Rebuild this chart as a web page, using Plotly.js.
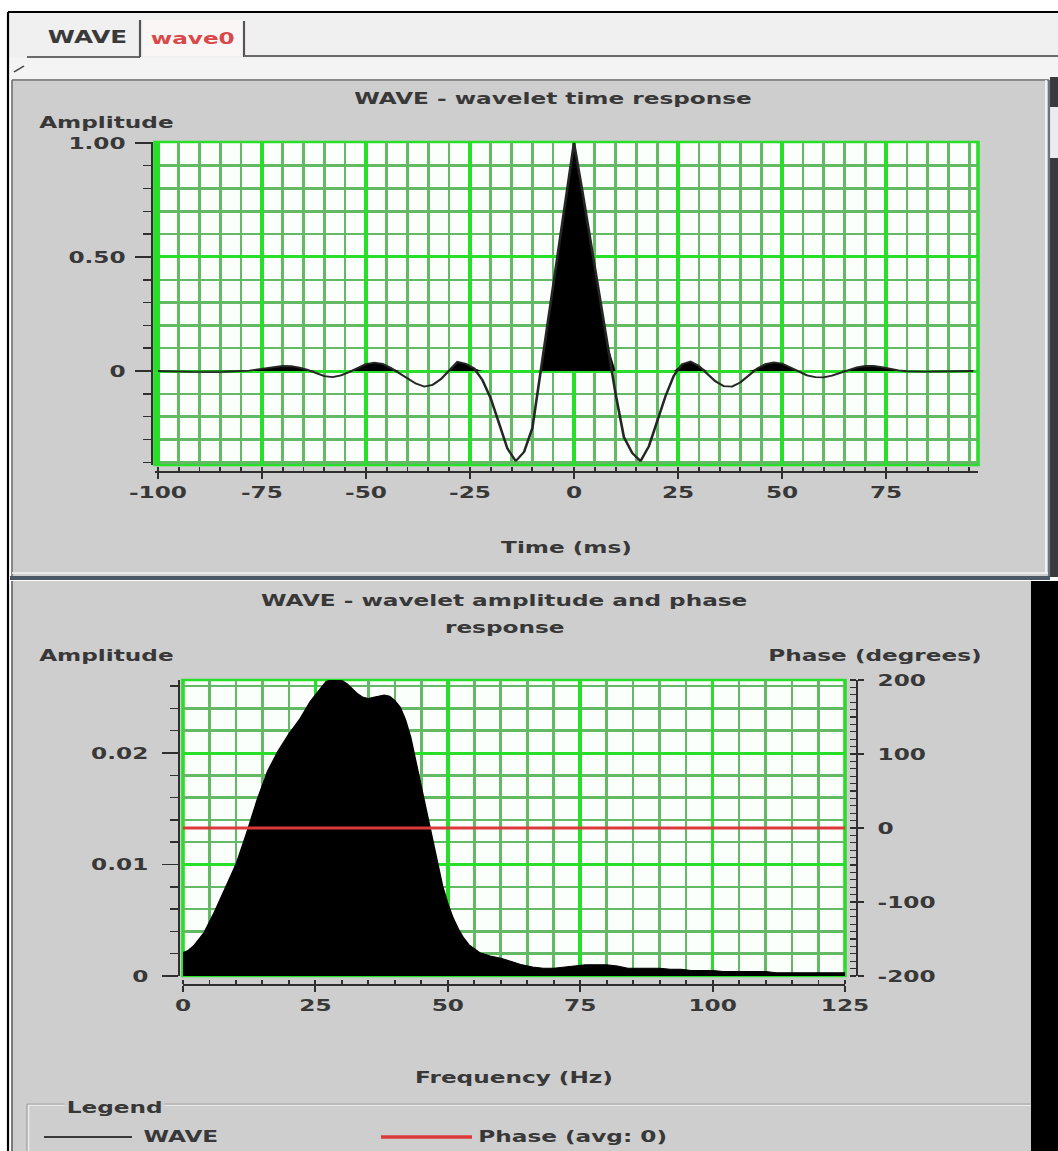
<!DOCTYPE html>
<html><head><meta charset="utf-8">
<script src="https://cdn.plot.ly/plotly-3.0.1.min.js"></script>
<style>
html,body{margin:0;padding:0;background:#fff;overflow:hidden;}
#wrap{width:1058px;height:1151px;overflow:hidden;}
#chart{width:730px;height:1151px;transform:scaleX(1.449315);transform-origin:0 0;}
</style></head><body><div id="wrap"><div id="chart"></div></div>
<script>
// ---------------- data ----------------
const timeMs = [-100,-98,-96,-94,-92,-90,-88,-86,-84,-82,-80,-78,-76,-74,-72,-70,-68,-66,-64,-62,-60,-58,-56,-54,-52,-50,-48,-46,-44,-42,-40,-38,-36,-34,-32,-30,-28,-26,-24,-22,-20,-18,-16,-14,-12,-10,-8,-6,-4,-2,0,2,4,6,8,10,12,14,16,18,20,22,24,26,28,30,32,34,36,38,40,42,44,46,48,50,52,54,56,58,60,62,64,66,68,70,72,74,76,78,80,82,84,86,88,90,92,94,96];
const timeAmp = [0.000,0.000,-0.002,-0.003,-0.004,-0.005,-0.005,-0.005,-0.004,-0.003,-0.001,0.002,0.007,0.013,0.019,0.022,0.021,0.015,0.005,-0.008,-0.022,-0.027,-0.019,-0.004,0.014,0.030,0.037,0.031,0.013,-0.011,-0.034,-0.055,-0.068,-0.061,-0.036,0.000,0.040,0.032,0.012,-0.040,-0.120,-0.230,-0.340,-0.395,-0.355,-0.250,-0.010,0.245,0.500,0.750,1.000,0.790,0.570,0.350,0.120,-0.100,-0.290,-0.360,-0.395,-0.330,-0.220,-0.110,-0.020,0.030,0.042,0.022,-0.012,-0.045,-0.066,-0.068,-0.050,-0.020,0.010,0.030,0.038,0.033,0.016,-0.004,-0.019,-0.027,-0.028,-0.020,-0.008,0.005,0.016,0.022,0.022,0.017,0.009,0.003,-0.001,-0.003,-0.003,-0.002,-0.001,0.000,0.000,0.000,0.000];

const freqHz = [0,1,2,4,6,8,10,12,14,16,18,20,22,24,26,27,28,30,31,32,33,34,35,36,37,38,39,40,41,42,43,44,45,46,47,48,49,50,51,52,53,54,56,58,60,62,64,66,68,70,72,74,76,78,80,82,84,86,88,90,92,94,96,98,100,102,104,106,108,110,112,114,116,118,120,122,124,125];
const specAmp = [0.0021,0.0023,0.0027,0.0039,0.0058,0.0078,0.0100,0.0128,0.0158,0.0184,0.0202,0.0217,0.0230,0.0246,0.0259,0.0264,0.0266,0.0265,0.0262,0.0257,0.0253,0.0250,0.0249,0.0250,0.0251,0.0252,0.0251,0.0247,0.0241,0.0230,0.0214,0.0192,0.0168,0.0145,0.0122,0.0100,0.0081,0.0065,0.0052,0.0042,0.0034,0.0028,0.0021,0.0018,0.0016,0.0013,0.0010,0.0008,0.0007,0.0007,0.0008,0.0009,0.0010,0.0010,0.0010,0.0009,0.0007,0.0007,0.0007,0.0007,0.0006,0.0006,0.0005,0.0005,0.0005,0.0004,0.0004,0.0004,0.0004,0.0004,0.0003,0.0003,0.0003,0.0003,0.0003,0.0003,0.0003,0.0003];

const phaseFreqHz = [0, 125];
const phaseDeg = [0, 0];

const topXTickVals = [-100,-75,-50,-25,0,25,50,75];
const topXTickText = ['-100','-75','-50','-25','0','25','50','75'];
const topYTickVals = [0, 0.5, 1];
const topYTickText = ['0','0.50','1.00'];
const botXTickVals = [0,25,50,75,100,125];
const botXTickText = ['0','25','50','75','100','125'];
const ampTickVals = [0, 0.01, 0.02];
const ampTickText = ['0','0.01','0.02'];
const phaseTickVals = [-200,-100,0,100,200];
const phaseTickText = ['-200','-100','0','100','200'];
const legendNames = ['WAVE','Phase (avg: 0)'];
const tabNames = ['WAVE','wave0'];

// ---------------- helpers ----------------
const W_REF = 1058, H_REF = 1151;
const px = x => x / W_REF;
const py = y => 1 - y / H_REF;
const FONT = 'DejaVu Sans, Verdana, sans-serif';
const TXT = '#383838';
const FS = 16;
const GRID_MAJOR = 'rgb(40,222,40)';
const GRID_MINOR = 'rgb(100,186,100)';
const PANEL = '#cecece';
const AXC = '#2f2f2f';
const RED = '#dc3a3a';
const baseFont = {family:FONT,size:FS,color:TXT,weight:'bold'};

function rect(x0,y0,x1,y1,fill){
  return {type:'rect',xref:'paper',yref:'paper',x0:px(x0),x1:px(x1),y0:py(y1),y1:py(y0),
          fillcolor:fill,line:{width:0},layer:'below'};
}
function seg(x0,y0,x1,y1,color,w){
  return {type:'line',xref:'paper',yref:'paper',x0:px(x0),x1:px(x1),y0:py(y0),y1:py(y1),
          line:{color:color,width:w},layer:'below'};
}
function ann(text,x,y,opt){
  return Object.assign({text:text,xref:'paper',yref:'paper',x:px(x),y:py(y),showarrow:false,
     xanchor:'center',yanchor:'middle',font:baseFont},opt||{});
}

const timeAmpPos = timeAmp.map(v => Math.max(v, 0));

// ---------------- traces ----------------
const traces = [
  {type:'scatter',mode:'lines',x:timeMs,y:timeAmpPos,xaxis:'x',yaxis:'y',fill:'tozeroy',
   fillcolor:'#000',line:{width:0,color:'#000'},showlegend:false,hoverinfo:'skip'},
  {type:'scatter',mode:'lines',name:legendNames[0],x:timeMs,y:timeAmp,xaxis:'x',yaxis:'y',
   line:{color:'#262626',width:1.8},showlegend:false},
  {type:'scatter',mode:'lines',name:legendNames[0],x:freqHz,y:specAmp,xaxis:'x2',yaxis:'y2',
   fill:'tozeroy',fillcolor:'#000',line:{color:'#000',width:1},showlegend:false},
  {type:'scatter',mode:'lines',name:legendNames[1],x:phaseFreqHz,y:phaseDeg,xaxis:'x2',yaxis:'y3',
   line:{color:RED,width:3},showlegend:false}
];

const tickFont = baseFont;

const shapes = [
  // chrome
  rect(8,12,1058,58,'#f0f0f0'),
  rect(8,58,1058,80,'#f4f4f4'),
  rect(143,20,243,56,'#fbf6f6'),
  rect(12,79,1049,577,PANEL),
  rect(1050,77,1058,577,'#3a3a3a'),
  rect(1050,107,1058,158,'#ececec'),
  rect(12,581,1031,1151,PANEL),
  rect(1031,581,1058,1151,'#000000'),
  seg(8,12,1058,12,'#000',2),
  seg(8,12,8,1151,'#000',1.5),
  seg(27,57,140,57,'#6a6a6a',2),
  seg(140,20,140,57,'#555',1.5),
  seg(244,21,244,57,'#555',1.5),
  seg(244,56,1058,56,'#6a6a6a',2),
  seg(14,72,24,66,'#444',1.2),
  seg(12,80,1049,80,'#8a8a8a',2),
  seg(12,80,12,577,'#777',1.2),
  seg(1046,80,1046,574,'#ffffff',1),
  seg(1049,80,1049,578,'#6b7580',1.5),
  seg(12,573,1048,573,'#f4f4f4',1.5),
  seg(10,578,1050,578,'#4c5866',4),
  seg(12,581,12,1151,'#6a6a6a',1.2),
  seg(27,1104,1031,1104,'#a4a4a4',1),
  seg(27,1105.5,1031,1105.5,'#ececec',1),
  seg(27,1104,27,1151,'#a4a4a4',1),
  seg(28.5,1105.5,28.5,1151,'#ececec',1),
  // legend swatches
  seg(44,1137,132,1137,'#3a3a3a',2),
  seg(381,1137,472,1137,RED,3.5),
  // plot area backgrounds and frames
  {type:'rect',xref:'x domain',yref:'y domain',x0:0,x1:1,y0:0,y1:1,fillcolor:'#fbfffb',line:{width:0},layer:'below'},
  {type:'rect',xref:'x2 domain',yref:'y2 domain',x0:0,x1:1,y0:0,y1:1,fillcolor:'#fbfffb',line:{width:0},layer:'below'},
  {type:'rect',xref:'x domain',yref:'y domain',x0:0,x1:1,y0:0,y1:1,line:{color:GRID_MAJOR,width:2.5},layer:'below'},
  {type:'rect',xref:'x2 domain',yref:'y2 domain',x0:0,x1:1,y0:0,y1:1,line:{color:GRID_MAJOR,width:2.5},layer:'below'}
];

const annotations = [
  ann(tabNames[0],88,37,{font:{family:FONT,size:17,color:'#3a3a3a',weight:'bold'}}),
  ann(tabNames[1],193,38,{font:{family:FONT,size:16,color:'#d84a4a',weight:'bold'}}),
  ann('Amplitude',36,122,{xanchor:'left'}),
  ann('WAVE - wavelet amplitude and phase',505,600),
  ann('response',505,627),
  ann('Amplitude',36,655,{xanchor:'left'}),
  ann('Phase (degrees)',875,655),
  ann('Legend',64,1107,{xanchor:'left',bgcolor:PANEL}),
  ann(legendNames[0],140,1136,{xanchor:'left'}),
  ann(legendNames[1],476,1136,{xanchor:'left'})
];

const layout = {
  width:730, height:1151, autosize:false,
  margin:{l:0,r:0,t:0,b:0,pad:0},
  paper_bgcolor:'#ffffff', plot_bgcolor:'rgba(0,0,0,0)',
  showlegend:false,
  font:baseFont,
  title:{text:'WAVE - wavelet time response',x:px(553),y:py(98),xref:'container',yref:'container',
         xanchor:'center',yanchor:'middle',font:baseFont},
  xaxis:{domain:[px(155),px(978)],range:[-100.7,97.1],anchor:'free',position:py(472),
    tickmode:'array',tickvals:topXTickVals,ticktext:topXTickText,tickfont:tickFont,
    ticks:'outside',ticklen:6,tickwidth:1.5,tickcolor:AXC,
    showline:true,linecolor:AXC,linewidth:2,zeroline:false,
    showgrid:true,gridcolor:GRID_MAJOR,gridwidth:2.4,
    minor:{tickmode:'linear',tick0:0,dtick:5,ticks:'inside',ticklen:4,tickwidth:1.3,tickcolor:AXC,
           showgrid:true,gridcolor:GRID_MINOR,gridwidth:1.8},
    title:{text:'Time (ms)',font:baseFont,standoff:40}},
  yaxis:{domain:[py(465),py(142)],range:[-0.412,1.004],anchor:'free',position:px(152),
    tickmode:'array',tickvals:topYTickVals,ticktext:topYTickText,tickfont:tickFont,
    ticks:'outside',ticklen:11,tickwidth:1.5,tickcolor:AXC,ticklabelstandoff:3,
    showline:true,linecolor:AXC,linewidth:2,zeroline:false,
    showgrid:true,gridcolor:GRID_MAJOR,gridwidth:3,
    minor:{tickmode:'linear',tick0:0,dtick:0.1,ticks:'outside',ticklen:5.5,tickwidth:1.5,tickcolor:AXC,
           showgrid:true,gridcolor:GRID_MINOR,gridwidth:2.5}},
  xaxis2:{domain:[px(183),px(845)],range:[0,125],anchor:'free',position:py(985),
    tickmode:'array',tickvals:botXTickVals,ticktext:botXTickText,tickfont:tickFont,
    ticks:'outside',ticklen:6,tickwidth:1.5,tickcolor:AXC,
    showline:true,linecolor:AXC,linewidth:2,zeroline:false,
    showgrid:true,gridcolor:GRID_MAJOR,gridwidth:2.4,
    minor:{tickmode:'linear',tick0:0,dtick:5,ticks:'inside',ticklen:4,tickwidth:1.3,tickcolor:AXC,
           showgrid:true,gridcolor:GRID_MINOR,gridwidth:1.8},
    title:{text:'Frequency (Hz)',font:baseFont,standoff:57}},
  yaxis2:{domain:[py(976),py(680)],range:[0,0.02655],anchor:'free',position:px(179),
    tickmode:'array',tickvals:ampTickVals,ticktext:ampTickText,tickfont:tickFont,
    ticks:'outside',ticklen:11,tickwidth:1.5,tickcolor:AXC,ticklabelstandoff:6,
    showline:true,linecolor:AXC,linewidth:2,zeroline:false,
    showgrid:true,gridcolor:GRID_MAJOR,gridwidth:3,
    minor:{tickmode:'linear',tick0:0,dtick:0.002,ticks:'outside',ticklen:5.5,tickwidth:1.5,tickcolor:AXC,
           showgrid:true,gridcolor:GRID_MINOR,gridwidth:2.5}},
  yaxis3:{overlaying:'y2',side:'right',range:[-200,200],anchor:'free',position:px(857),
    tickmode:'array',tickvals:phaseTickVals,ticktext:phaseTickText,tickfont:tickFont,
    ticks:'outside',ticklen:4,tickwidth:1.5,tickcolor:AXC,ticklabelstandoff:6,
    showline:true,linecolor:AXC,linewidth:2,zeroline:false,showgrid:false,
    minor:{tickmode:'linear',tick0:0,dtick:10,ticks:'inside',ticklen:3.5,tickwidth:1.3,tickcolor:AXC,showgrid:false}},
  shapes:shapes,
  annotations:annotations
};

Plotly.newPlot('chart', traces, layout, {displayModeBar:false, staticPlot:true});
</script></body></html>
